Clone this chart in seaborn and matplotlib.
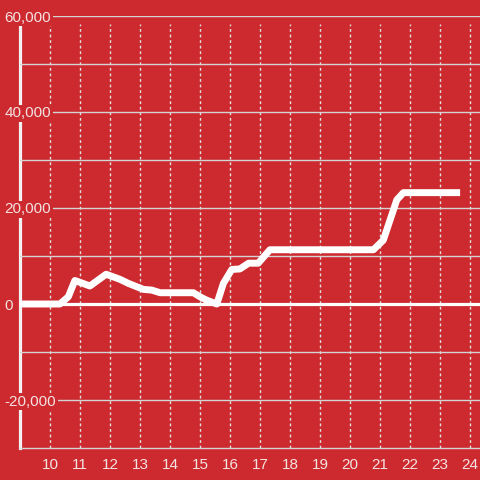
import matplotlib
matplotlib.use("Agg")
import matplotlib.pyplot as plt
import seaborn as sns
import numpy as np

# hour of day vs running value
hours = [9.0, 10.33, 10.61, 10.83, 11.33, 11.87, 12.33, 12.61, 12.89, 13.11, 13.39,
         13.67, 14.78, 15.0, 15.22, 15.56, 15.78, 16.06, 16.33, 16.62, 16.94, 17.33,
         20.78, 21.11, 21.56, 21.78, 23.67]
values = [0, 0, 1500, 4900, 3750, 6200, 5150, 4300, 3600, 3050, 2900,
          2350, 2350, 1500, 800, 0, 4300, 7200, 7300, 8500, 8500, 11300,
          11300, 13300, 21700, 23200, 23200]

x_ticks = list(range(10, 25))
y_ticks = [-20000, 0, 20000, 40000, 60000]
y_minor = [-10000, 10000, 30000, 50000]

bg = '#cc2a2f'
txt = '#f4e2e2'

sns.set_style('white')
plt.rcParams['font.family'] = ['Liberation Sans', 'DejaVu Sans']

fig = plt.figure(figsize=(4.8, 4.8), dpi=100, facecolor=bg)
ax = fig.add_axes([20 / 480, 32 / 480, 460 / 480, 432 / 480])
ax.set_facecolor(bg)

ax.set_xlim(9, 24.333)
ax.set_ylim(-30000, 60000)

# vertical dotted grid
ax.vlines(x_ticks, -30000, 58300, colors='#e0e0e0', linewidth=1,
          linestyles=(0, (2, 2)), zorder=1)

ax.set_yticks(y_ticks)
ax.set_yticks(y_minor, minor=True)
ax.set_yticklabels([f'{v:,}' for v in y_ticks])
ax.yaxis.grid(True, which='both', color='#d4d4d4', linewidth=1)
ax.set_xticks(x_ticks)
ax.set_xticklabels([str(t) for t in x_ticks])

ax.tick_params(axis='y', which='both', length=0, pad=11, labelsize=11, labelcolor=txt)
ax.tick_params(axis='x', length=0, pad=7, labelsize=11, labelcolor=txt)
for lbl in ax.get_yticklabels():
    lbl.set_horizontalalignment('left')
    lbl.set_bbox(dict(facecolor=bg, edgecolor='none', pad=1))
ax.yaxis.set_zorder(3)

ax.axhline(0, color='white', linewidth=2.3, zorder=4)

sns.lineplot(x=hours, y=values, ax=ax, color='white', linewidth=5,
             estimator=None, zorder=5)
ax.lines[-1].set_solid_capstyle('butt')

for s in ['top', 'right']:
    ax.spines[s].set_visible(False)
ax.spines['left'].set_color('#f2f2f2')
ax.spines['left'].set_linewidth(2.3)
ax.spines['left'].set_bounds(-30000, 58300)
ax.spines['bottom'].set_color('#d4d4d4')
ax.spines['bottom'].set_linewidth(1)

fig.savefig('out.png', dpi=100, facecolor=bg)
